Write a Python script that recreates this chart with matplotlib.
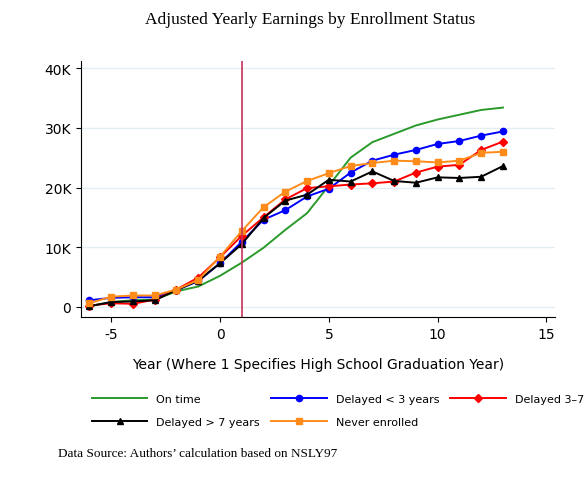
import matplotlib
matplotlib.use("Agg")
import matplotlib.pyplot as plt

plt.rcParams["axes.unicode_minus"] = False

years = list(range(-6, 14))
on_time = [0.1, 0.8, 1.1, 1.2, 2.6, 3.4, 5.2, 7.4, 9.9, 12.9, 15.7, 20.3, 25.0, 27.6, 29.0, 30.4, 31.4, 32.2, 33.0, 33.4]
delay_lt3 = [1.1, 1.5, 1.6, 1.6, 2.8, 4.3, 7.3, 10.9, 14.6, 16.2, 18.5, 19.8, 22.5, 24.5, 25.5, 26.3, 27.3, 27.8, 28.7, 29.4]
delay_3_7 = [0.2, 0.6, 0.5, 1.2, 2.9, 4.9, 8.3, 11.9, 15.0, 18.0, 19.9, 20.2, 20.5, 20.7, 21.0, 22.5, 23.5, 23.8, 26.3, 27.7]
delay_gt7 = [0.1, 0.8, 0.9, 1.1, 2.8, 4.4, 7.3, 10.5, 14.9, 17.8, 18.8, 21.3, 21.0, 22.7, 21.1, 20.8, 21.7, 21.6, 21.8, 23.6]
never = [0.6, 1.7, 1.9, 1.9, 2.9, 4.5, 8.4, 12.7, 16.7, 19.3, 21.1, 22.4, 23.6, 24.1, 24.5, 24.4, 24.2, 24.5, 25.8, 26.0]

yticks = [0, 10, 20, 30, 40]
ylabels = ["0", "10K", "20K", "30K", "40K"]

fig = plt.figure(figsize=(5.85, 4.81), dpi=100)
ax = fig.add_axes([0.138, 0.339, 0.811, 0.532])

ax.plot(years, on_time, color="#2a9a2a", lw=1.4, label="On time")
ax.plot(years, delay_lt3, color="blue", lw=1.4, marker="o", ms=4.5, label="Delayed < 3 years")
ax.plot(years, delay_3_7, color="red", lw=1.4, marker="D", ms=4.5, label="Delayed 3\u20137 years")
ax.plot(years, delay_gt7, color="black", lw=1.4, marker="^", ms=5, label="Delayed > 7 years")
ax.plot(years, never, color="#ff8c1a", lw=1.4, marker="s", ms=4.5, label="Never enrolled")
ax.axvline(1, color="#c8325a", lw=1.2)

ax.set_xlim(-6.4, 15.4)
ax.set_ylim(-1.7, 41.2)
ax.set_xticks([-5, 0, 5, 10, 15])
ax.set_yticks(yticks)
ax.set_yticklabels(ylabels)
ax.tick_params(labelsize=10)
ax.grid(axis="y", color="#e3eef2", lw=1)
ax.set_axisbelow(True)
for s in ["top", "right"]:
    ax.spines[s].set_visible(False)
ax.set_xlabel("Year (Where 1 Specifies High School Graduation Year)", fontsize=10, labelpad=12)

fig.text(0.53, 0.975, "Adjusted Yearly Earnings by Enrollment Status", ha="center", va="top",
         family="Liberation Serif", fontsize=12.5)

# row-wise order: matplotlib fills legend columns first
handles, labels = ax.get_legend_handles_labels()
order = [0, 3, 1, 4, 2]
fig.legend([handles[i] for i in order], [labels[i] for i in order], ncol=3,
           loc="upper left", bbox_to_anchor=(0.14, 0.2), frameon=False, fontsize=8,
           handlelength=5, handletextpad=0.8, columnspacing=1.0, labelspacing=1.2)

fig.text(0.10, 0.05, "Data Source: Authors\u2019 calculation based on NSLY97", family="Liberation Serif", fontsize=9.5)

fig.savefig("out.png", dpi=100)
